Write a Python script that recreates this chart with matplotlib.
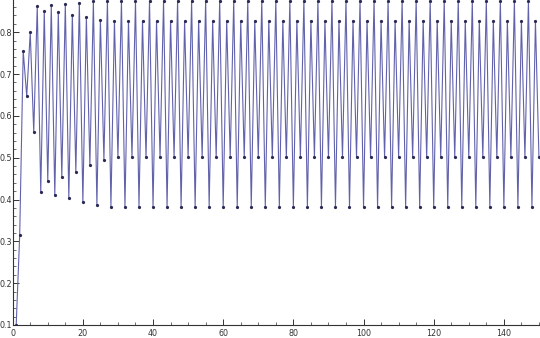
import numpy as np
import matplotlib.pyplot as plt

# iterates (x_n for n = 1..150)
steps = list(range(1, 151))
values = [
    0.1000, 0.3150, 0.7552, 0.6470, 0.7993, 0.5614, 0.8618, 0.4168,
    0.8508, 0.4443, 0.8641, 0.4109, 0.8472, 0.4530, 0.8673, 0.4029,
    0.8420, 0.4657, 0.8709, 0.3936, 0.8354, 0.4814, 0.8738, 0.3860,
    0.8295, 0.4950, 0.8749, 0.3830, 0.8271, 0.5005, 0.8750,
    0.3828, 0.8269, 0.5009, 0.8750, 0.3828, 0.8269, 0.5009, 0.8750,
    0.3828, 0.8269, 0.5009, 0.8750, 0.3828, 0.8269, 0.5009, 0.8750,
    0.3828, 0.8269, 0.5009, 0.8750, 0.3828, 0.8269, 0.5009, 0.8750,
    0.3828, 0.8269, 0.5009, 0.8750, 0.3828, 0.8269, 0.5009, 0.8750,
    0.3828, 0.8269, 0.5009, 0.8750, 0.3828, 0.8269, 0.5009, 0.8750,
    0.3828, 0.8269, 0.5009, 0.8750, 0.3828, 0.8269, 0.5009, 0.8750,
    0.3828, 0.8269, 0.5009, 0.8750, 0.3828, 0.8269, 0.5009, 0.8750,
    0.3828, 0.8269, 0.5009, 0.8750, 0.3828, 0.8269, 0.5009, 0.8750,
    0.3828, 0.8269, 0.5009, 0.8750, 0.3828, 0.8269, 0.5009, 0.8750,
    0.3828, 0.8269, 0.5009, 0.8750, 0.3828, 0.8269, 0.5009, 0.8750,
    0.3828, 0.8269, 0.5009, 0.8750, 0.3828, 0.8269, 0.5009, 0.8750,
    0.3828, 0.8269, 0.5009, 0.8750, 0.3828, 0.8269, 0.5009, 0.8750,
    0.3828, 0.8269, 0.5009, 0.8750, 0.3828, 0.8269, 0.5009, 0.8750,
    0.3828, 0.8269, 0.5009, 0.8750, 0.3828, 0.8269, 0.5009, 0.8750,
    0.3828, 0.8269, 0.5009, 0.8750,
    0.3828, 0.8269, 0.5009,
]
x_ticks = [0, 20, 40, 60, 80, 100, 120, 140]
y_ticks = [0.1, 0.2, 0.3, 0.4, 0.5, 0.6, 0.7, 0.8]

fig = plt.figure(figsize=(5.4, 3.38), dpi=100)
ax = fig.add_axes([0.0235, 0.0385, 0.9765, 0.9615])

ax.plot(steps, values, color='#6262ac', lw=0.8, zorder=2)
ax.plot(steps, values, ls='none', marker='o', ms=1.3, color='#2a2a55', zorder=3)

ax.set_xlim(0, 150.3)
ax.set_ylim(0.1, 0.877)

for s in ['top', 'right']:
    ax.spines[s].set_visible(False)
for s in ['left', 'bottom']:
    ax.spines[s].set_linewidth(0.8)
    ax.spines[s].set_color('#333333')

ax.set_xticks(x_ticks)
ax.set_yticks(y_ticks)
ax.set_yticklabels([f'{v:.1f}' for v in y_ticks])
ax.set_xticks(np.arange(0, 151, 5), minor=True)
ax.set_yticks(np.arange(0.1, 0.877, 0.02), minor=True)
ax.tick_params(which='both', direction='in', colors='#333333', labelsize=5.8)
ax.tick_params(axis='y', pad=0.4)
ax.tick_params(axis='x', pad=3)
ax.tick_params(which='major', length=4, width=0.7)
ax.tick_params(which='minor', length=2, width=0.5)

fig.savefig('out.png', dpi=100)
